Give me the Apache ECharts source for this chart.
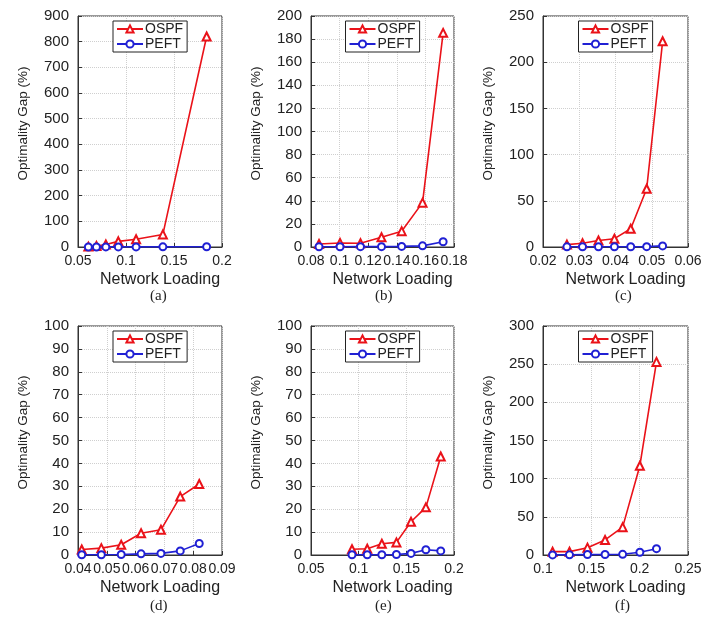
<!DOCTYPE html>
<html><head><meta charset="utf-8">
<script src="https://cdn.jsdelivr.net/npm/echarts@6/dist/echarts.min.js"></script>
<style>html,body{margin:0;padding:0;background:#fff}#c{width:710px;height:623px}</style>
</head><body><div id="c"></div>
<script>
// ---- data ----
const xA = [0.0608, 0.0692, 0.079, 0.092, 0.1105, 0.1384, 0.184];
const ospfA = [1.5, 4, 10, 22, 30, 49, 820];
const peftA = [0.2, 0.2, 0.3, 0.3, 0.4, 0.5, 0.8];

const xB = [0.0856, 0.1003, 0.1146, 0.1293, 0.1434, 0.158, 0.1724];
const ospfB = [2.6, 3.5, 3.2, 8.4, 13.7, 38.4, 185.4];
const peftB = [0.2, 0.2, 0.3, 0.3, 0.5, 1, 4.5];

const xC = [0.0266, 0.0309, 0.0353, 0.0397, 0.0442, 0.0486, 0.053];
const ospfC = [2.6, 4, 7, 9, 19.7, 63, 222.6];
const peftC = [0.2, 0.2, 0.2, 0.3, 0.3, 0.4, 1.2];

const xD = [0.0413, 0.0481, 0.055, 0.0619, 0.0688, 0.0755, 0.0821];
const ospfD = [2.4, 3, 4.5, 9.5, 11, 25.5, 31];
const peftD = [0.1, 0.1, 0.2, 0.5, 0.7, 1.8, 5];

const xE = [0.093, 0.109, 0.1243, 0.1396, 0.1549, 0.1705, 0.1861];
const ospfE = [2.5, 2.7, 4.9, 5.5, 14.5, 20.8, 43];
const peftE = [0.1, 0.1, 0.1, 0.2, 0.7, 2.3, 1.8];

const xF = [0.1099, 0.1274, 0.146, 0.1642, 0.1824, 0.2002, 0.2174];
const ospfF = [4.4, 4.4, 9.6, 19.7, 36.5, 117, 253];
const peftF = [0.1, 0.2, 0.5, 0.6, 0.9, 3.6, 8.3];

// axis ranges [min, max, interval]
const xRanges = [[0.05, 0.2, 0.05], [0.08, 0.18, 0.02], [0.02, 0.06, 0.01], [0.04, 0.09, 0.01], [0.05, 0.2, 0.05], [0.1, 0.25, 0.05]];
const yRanges = [[0, 900, 100], [0, 200, 20], [0, 250, 50], [0, 100, 10], [0, 100, 10], [0, 300, 50]];
const captions = ['(a)', '(b)', '(c)', '(d)', '(e)', '(f)'];
const seriesNames = ['OSPF', 'PEFT'];
const xLabelName = 'Network Loading';
const yLabelName = 'Optimality Gap (%)';

const panels = [[xA, ospfA, peftA], [xB, ospfB, peftB], [xC, ospfC, peftC], [xD, ospfD, peftD], [xE, ospfE, peftE], [xF, ospfF, peftF]];

// ---- layout ----
const lefts = [78, 311, 543];
const widths = [144, 143, 145];
const tops = [16, 326];
const heights = [231, 229];
const capX = [160, 385, 625];
const capY = [289, 599];

const RED = '#ea1219', BLUE = '#2020d4';
const fmt = v => String(parseFloat((+v).toFixed(4)));
const font = 'Liberation Sans, Arial, sans-serif';

const grid = [], xAxis = [], yAxis = [], series = [], legend = [], graphic = [];
panels.forEach((p, i) => {
  const col = i % 3, row = Math.floor(i / 3);
  const L = lefts[col], T = tops[row], W = widths[col], H = heights[row];
  grid.push({left: L, top: T, width: W, height: H, show: true, borderColor: '#333', borderWidth: 1, backgroundColor: '#fff', containLabel: false});
  const xr = xRanges[i], yr = yRanges[i];
  xAxis.push({
    type: 'value', gridIndex: i, min: xr[0], max: xr[1], interval: xr[2],
    name: xLabelName, nameLocation: 'middle', nameGap: 25,
    nameTextStyle: {fontFamily: font, fontSize: 16, color: '#222', padding: [0, 0, 0, 20]},
    axisLine: {show: true, onZero: false, lineStyle: {color: '#333', width: 1}},
    axisTick: {show: true, inside: true, length: 4, lineStyle: {color: '#333'}},
    axisLabel: {fontFamily: font, fontSize: 14, color: '#222', margin: 7, formatter: fmt, showMinLabel: true, showMaxLabel: true, hideOverlap: false},
    splitLine: {show: true, lineStyle: {color: '#cfcfcf', type: 'dotted', width: 1}}
  });
  yAxis.push({
    type: 'value', gridIndex: i, min: yr[0], max: yr[1], interval: yr[2],
    name: yLabelName, nameLocation: 'middle', nameGap: 48,
    nameTextStyle: {fontFamily: font, fontSize: 13.5, color: '#222', padding: [0, 0, 0, 16]},
    axisLine: {show: true, onZero: false, lineStyle: {color: '#333', width: 1}},
    axisTick: {show: true, inside: true, length: 4, lineStyle: {color: '#333'}},
    axisLabel: {fontFamily: font, fontSize: 15, color: '#222', margin: 9, showMinLabel: true, showMaxLabel: true, hideOverlap: false},
    splitLine: {show: true, lineStyle: {color: '#cfcfcf', type: 'dotted', width: 1}}
  });
  const xs = p[0];
  series.push({
    name: seriesNames[0], type: 'line', xAxisIndex: i, yAxisIndex: i,
    data: xs.map((x, k) => [x, p[1][k]]),
    symbol: 'emptyTriangle', symbolSize: 8, z: 3,
    lineStyle: {color: RED, width: 1.6}, itemStyle: {color: RED, borderWidth: 1.3},
    animation: false
  });
  series.push({
    name: seriesNames[1], type: 'line', xAxisIndex: i, yAxisIndex: i,
    data: xs.map((x, k) => [x, p[2][k]]),
    symbol: 'emptyCircle', symbolSize: 7, z: 4,
    lineStyle: {color: BLUE, width: 1.6}, itemStyle: {color: BLUE, borderWidth: 1.3},
    animation: false
  });
  legend.push({
    data: seriesNames, orient: 'vertical', left: L + W / 2 - 37, top: T + 5,
    itemWidth: 26, itemHeight: 9, itemGap: 1,
    padding: [1, 4, 1, 3], borderColor: '#222', borderWidth: 1, borderRadius: 0,
    backgroundColor: '#fff', selectedMode: false,
    textStyle: {fontFamily: font, fontSize: 14, color: '#222', padding: [0, 0, 0, -3]}
  });
  graphic.push({
    type: 'text', left: capX[col] - 10, top: capY[row],
    style: {text: captions[i], font: '15px "Liberation Serif", "Times New Roman", serif', fill: '#222'}
  });
});

const chart = echarts.init(document.getElementById('c'), null, {renderer: 'canvas'});
chart.setOption({animation: false, backgroundColor: '#fff', grid, xAxis, yAxis, series, legend, graphic});
</script>
</body></html>
